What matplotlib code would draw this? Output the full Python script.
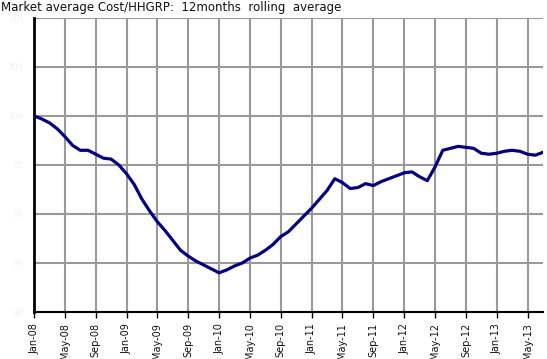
import matplotlib
matplotlib.use("Agg")
import matplotlib.pyplot as plt
import numpy as np

# monthly 12-month rolling average, Jan-08 .. Jul-13
values = [100.0, 99.7, 99.3, 98.7, 97.9, 97.0, 96.5, 96.5, 96.1, 95.7,
          95.6, 95.0, 94.1, 93.0, 91.5, 90.3, 89.2, 88.3, 87.3, 86.3,
          85.7, 85.2, 84.8, 84.4, 84.0, 84.3, 84.7, 85.0, 85.5, 85.8,
          86.3, 86.9, 87.7, 88.2, 89.0, 89.8, 90.6, 91.5, 92.4, 93.6,
          93.2, 92.6, 92.7, 93.1, 92.9, 93.3, 93.6, 93.9, 94.2, 94.3,
          93.8, 93.4, 94.8, 96.5, 96.7, 96.9, 96.8, 96.7, 96.2, 96.1,
          96.2, 96.4, 96.5, 96.4, 96.1, 96.0, 96.3]
tick_labels = ["Jan-08", "May-08", "Sep-08", "Jan-09", "May-09", "Sep-09",
               "Jan-10", "May-10", "Sep-10", "Jan-11", "May-11", "Sep-11",
               "Jan-12", "May-12", "Sep-12", "Jan-13", "May-13"]
y_ticks = [80, 85, 90, 95, 100, 105, 110]

months = np.arange(len(values))

fig = plt.figure(figsize=(5.47, 3.59), dpi=100)
ax = fig.add_axes([0.0622, 0.1309, 0.9305, 0.819])

ax.plot(months, values, color="#000080", lw=2.3, solid_capstyle="round", zorder=3)

ax.set_xlim(0, 66)
ax.set_ylim(80, 110)
ax.set_xticks(np.arange(0, 4 * len(tick_labels), 4))
ax.set_xticklabels(tick_labels, rotation=90, fontsize=7, color="#111111")
ax.set_yticks(y_ticks)
ax.set_yticklabels([str(v) for v in y_ticks], fontsize=5.5, color="#e6f7f7")

ax.grid(True, color="#999999", lw=1.5, zorder=1)
ax.set_axisbelow(True)
for s in ["top", "right"]:
    ax.spines[s].set_visible(False)
ax.spines["left"].set_linewidth(2)
ax.spines["bottom"].set_linewidth(1.5)
ax.tick_params(axis="y", length=0, pad=8)
ax.tick_params(axis="x", length=4, width=1, pad=4)

fig.text(0.002, 0.998, "Market average Cost/HHGRP:  12months  rolling  average",
         fontsize=8.5, va="top", ha="left", color="#111111")

fig.savefig("out.png", dpi=100)
